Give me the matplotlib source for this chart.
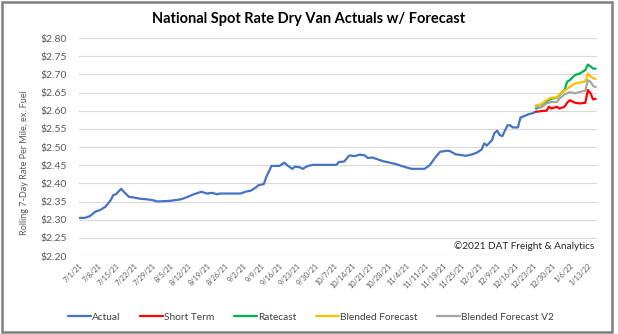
import matplotlib
matplotlib.use("Agg")
import matplotlib.pyplot as plt
from matplotlib.patches import Rectangle
import pandas as pd

plt.rcParams['font.family'] = ['Lato', 'DejaVu Sans']

# Weekly rolling national dry van spot rate (actuals)
actual_dates = [
    "2021-07-01", "2021-07-03", "2021-07-05", "2021-07-07", "2021-07-09", "2021-07-11",
    "2021-07-13", "2021-07-14", "2021-07-15", "2021-07-17", "2021-07-18", "2021-07-20",
    "2021-07-22", "2021-07-24", "2021-07-27", "2021-07-29", "2021-07-31", "2021-08-05",
    "2021-08-09", "2021-08-11", "2021-08-14", "2021-08-17", "2021-08-19", "2021-08-21",
    "2021-08-23", "2021-08-24", "2021-08-27", "2021-09-01", "2021-09-03", "2021-09-05",
    "2021-09-07", "2021-09-08", "2021-09-10", "2021-09-11", "2021-09-13", "2021-09-16",
    "2021-09-18", "2021-09-19", "2021-09-21", "2021-09-22", "2021-09-24", "2021-09-25",
    "2021-09-27", "2021-09-29", "2021-10-08", "2021-10-09", "2021-10-11", "2021-10-13",
    "2021-10-15", "2021-10-17", "2021-10-19", "2021-10-20", "2021-10-22", "2021-10-26",
    "2021-10-28", "2021-10-31", "2021-11-03", "2021-11-06", "2021-11-11", "2021-11-13",
    "2021-11-15", "2021-11-17", "2021-11-20", "2021-11-21", "2021-11-23", "2021-11-27",
    "2021-11-29", "2021-12-01", "2021-12-03", "2021-12-04", "2021-12-05", "2021-12-07",
    "2021-12-08", "2021-12-09", "2021-12-10", "2021-12-11", "2021-12-13", "2021-12-14",
    "2021-12-15", "2021-12-17", "2021-12-18", "2021-12-21", "2021-12-23", "2021-12-24",
]
actual_values = [
    2.305, 2.305, 2.310, 2.322, 2.327, 2.336,
    2.354, 2.368, 2.370, 2.385, 2.377, 2.363,
    2.361, 2.358, 2.356, 2.354, 2.350, 2.352,
    2.356, 2.361, 2.370, 2.377, 2.372, 2.374,
    2.370, 2.372, 2.372, 2.372, 2.377, 2.380,
    2.389, 2.395, 2.398, 2.418, 2.448, 2.448,
    2.457, 2.450, 2.440, 2.446, 2.444, 2.440,
    2.448, 2.451, 2.451, 2.459, 2.460, 2.477,
    2.475, 2.479, 2.477, 2.470, 2.471, 2.461,
    2.458, 2.453, 2.446, 2.440, 2.440, 2.450,
    2.470, 2.487, 2.490, 2.488, 2.480, 2.476,
    2.479, 2.484, 2.493, 2.510, 2.504, 2.519,
    2.539, 2.545, 2.533, 2.530, 2.560, 2.560,
    2.554, 2.554, 2.581, 2.590, 2.594, 2.598,
]

# Forecast horizon
forecast_dates = [
    "2021-12-24", "2021-12-26", "2021-12-28", "2021-12-29", "2021-12-30", "2022-01-01",
    "2022-01-02", "2022-01-04", "2022-01-05", "2022-01-06", "2022-01-08", "2022-01-10",
    "2022-01-12", "2022-01-13", "2022-01-14", "2022-01-15", "2022-01-16",
]
short_term = [2.597, 2.599, 2.600, 2.611, 2.606, 2.611, 2.606, 2.611, 2.622, 2.629,
              2.622, 2.620, 2.622, 2.657, 2.648, 2.631, 2.633]
ratecast = [2.606, 2.611, 2.624, 2.630, 2.633, 2.636, 2.643, 2.657, 2.680, 2.684,
            2.698, 2.703, 2.712, 2.727, 2.722, 2.716, 2.716]
blended = [2.615, 2.618, 2.629, 2.633, 2.636, 2.636, 2.645, 2.655, 2.660, 2.666,
           2.675, 2.678, 2.680, 2.703, 2.694, 2.690, 2.688]
blended_v2 = [2.611, 2.609, 2.620, 2.622, 2.624, 2.624, 2.633, 2.645, 2.648, 2.651,
              2.648, 2.652, 2.655, 2.684, 2.680, 2.668, 2.665]

tick_dates = pd.date_range("2021-07-01", "2022-01-13", freq="7D")
y_ticks = [2.20 + 0.05 * i for i in range(13)]

series = [
    ("Actual", actual_dates, actual_values, "#4472C4"),
    ("Short Term", forecast_dates, short_term, "#FF0000"),
    ("Ratecast", forecast_dates, ratecast, "#00B050"),
    ("Blended Forecast", forecast_dates, blended, "#FFC000"),
    ("Blended Forecast V2", forecast_dates, blended_v2, "#A5A5A5"),
]

fig = plt.figure(figsize=(6.18, 3.34), dpi=100)
ax = fig.add_axes([0.128, 0.2335, 0.838, 0.6525])

for label, d, v, c in series:
    ax.plot(pd.to_datetime(d), v, color=c, lw=1.6, label=label, solid_capstyle="round")

ax.set_ylim(2.20, 2.80)
ax.set_yticks(y_ticks)
ax.set_yticklabels([f"${t:.2f}" for t in y_ticks])
x0 = pd.Timestamp("2021-07-01") - pd.Timedelta(hours=5)
x1 = pd.Timestamp("2022-01-16") + pd.Timedelta(hours=12)
ax.set_xlim(x0, x1)
ax.set_xticks(tick_dates)
ax.set_xticklabels([f"{t.month}/{t.day}/{t.strftime('%y')}" for t in tick_dates],
                   rotation=45, ha="right", rotation_mode="anchor")

ax.grid(axis="y", color="#D9D9D9", lw=0.8)
ax.set_axisbelow(True)
for s in ax.spines.values():
    s.set_visible(False)
ax.tick_params(axis="y", length=0, pad=9, labelsize=7.5, labelcolor="#595959")
ax.tick_params(axis="x", length=0, pad=4, labelsize=5.3, labelcolor="#595959")

ax.set_ylabel("Rolling 7-Day Rate Per Mile, ex. Fuel", fontsize=6.5, color="#595959")
ax.yaxis.set_label_coords(-0.097, 0.43)

ax.text(0.995, 0.045, "©2021 DAT Freight & Analytics", transform=ax.transAxes,
        ha="right", va="center", fontsize=7.2, color="#262626")

fig.text(0.5, 0.943, "National Spot Rate Dry Van Actuals w/ Forecast",
         ha="center", va="center", fontsize=10.5, fontweight="bold", color="#000000")

leg = fig.legend(loc="center", bbox_to_anchor=(0.503, 0.051), ncol=5, frameon=False,
                 fontsize=7.3, handlelength=2.3, handletextpad=0.1, columnspacing=1.9)
for t in leg.get_texts():
    t.set_color("#404040")

fig.patches.append(Rectangle((0.003, 0.006), 0.987, 0.988, transform=fig.transFigure,
                             fill=False, edgecolor="#7F7F7F", lw=1.8))

fig.savefig("out.png", dpi=100)
